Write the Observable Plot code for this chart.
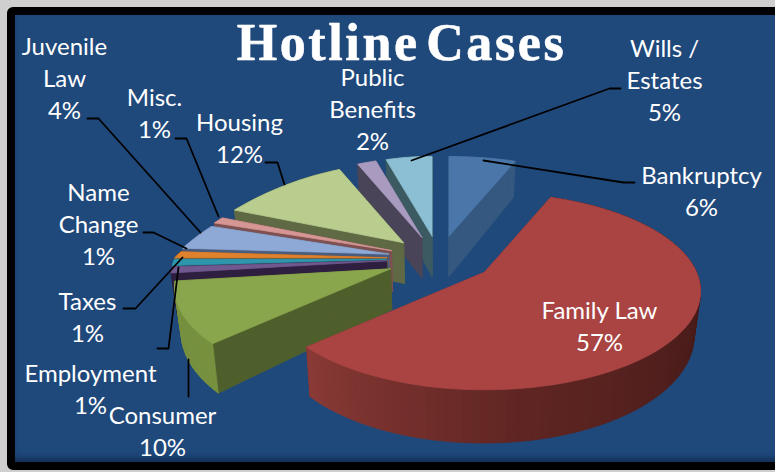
<!DOCTYPE html>
<html>
<head>
<meta charset="utf-8">
<script src="https://cdn.jsdelivr.net/npm/d3@7"></script>
<script src="https://cdn.jsdelivr.net/npm/@observablehq/plot@0.6"></script>
<style>
html,body{margin:0;padding:0;width:775px;height:472px;overflow:hidden;background:#cfcfcf}
#panel{position:absolute;left:7px;top:7px;width:800px;height:447px;border:8px solid #000;border-radius:6px;background:#1f487b;box-shadow:inset 0 -7px 7px -4px #10294d}
#chart{position:absolute;left:0;top:0}
.bigtitle text{letter-spacing:2.6px;word-spacing:-9px}
</style>
</head>
<body>
<div id="panel"></div>
<div id="chart"></div>
<script>
const categories = ["Bankruptcy","Family Law","Consumer","Employment","Taxes","Name Change","Juvenile Law","Misc.","Housing","Public Benefits","Wills / Estates"];
const shares = [6,57,10,1,1,1,4,1,12,2,5];
const labels = ["Bankruptcy\n6%","Family Law\n57%","Consumer\n10%","Employment\n1%","Taxes\n1%","Name\nChange\n1%","Juvenile\nLaw\n4%","Misc.\n1%","Housing\n12%","Public\nBenefits\n2%","Wills /\nEstates\n5%"];

// Styling and layout, by category index
const topColor  = ["#4a76a9","#a94442","#8aa64c","#71588f","#2f96ad","#e0812d","#8ea9d6","#d69694","#b9cd8e","#a99bc0","#8cbfd3"];
const wallColor = ["#34587f","#7a2f2d","#4f5f2c","#2e1f40","#1d5f6e","#8e4f18","#4a5d7e","#7e5150","#5f6a45","#4a4458","#3b5a62"];
const paintOrder = [10,9,0,8,7,6,5,4,3,2,1];
const labelX = [701,599,162,90,87,98,64,154,239,372,664];
const labelY = [192,327,432,390,318,225,79,114,139,110,81].map(y => y - 2.5);
const leaders = [
  [[634,182],[623,182],[483,160]],
  [[188,396],[188,359]],
  [[157,348],[168,348],[178,267]],
  [[123,308],[135,308],[182,257]],
  [[143,232],[153,232],[186,248]],
  [[87,118],[98,118],[200,232]],
  [[175,138],[186,138],[218,216]],
  [[265,162],[277,162],[284,184]],
  [[620,88],[609,88],[411,160]]
];
const cx = 439, cy = 258, Rx = 212, Ry = 95, persp = 0.192, perspBackLeft = 0.45, explode = 0.25, depth = 43, taper = 0.025;

const total = d3.sum(shares);
const toRad = a => a * 2 * Math.PI / total;
const cum = d3.cumsum(shares);
const slices = shares.map((v, i) => ({i, a0: toRad(i ? cum[i-1] : 0), a1: toRad(cum[i])}));

function proj(u, v) {
  const s = 1 / (1 + persp * v);
  const sx = (u < 0 && v > 0) ? 1 / (1 + perspBackLeft * v) : s;
  return {x: Rx * u * sx, y: -Ry * v * s, d: depth * s};
}
function geom(sl) {
  const m = (sl.a0 + sl.a1) / 2;
  const ap = proj(explode * Math.sin(m), explode * Math.cos(m));
  const apex = [cx + ap.x, cy + ap.y];
  const n = Math.max(3, Math.ceil((sl.a1 - sl.a0) / 0.035));
  const rim = d3.range(n + 1).map(k => {
    const a = sl.a0 + (sl.a1 - sl.a0) * k / n;
    const p = proj(Math.sin(a), Math.cos(a));
    return {x: apex[0] + p.x, y: apex[1] + p.y, d: p.d, a};
  });
  return {apex, rim};
}
const lower = (x, y, d) => [x + (cx - x) * taper, y + d];
const poly = (pts, fill) => Plot.line([...pts, pts[0]], {x: d => d[0], y: d => d[1], fill, stroke: fill, strokeWidth: 0.8, curve: "linear"});
const familyWall = d3.scaleLinear().domain([Math.PI*1.26, Math.PI*0.95, Math.PI*0.5]).range(["#8a3a36","#5f2522","#411816"]).clamp(true);
const consumerWall = "#77913f";

const marks = [];
for (const idx of paintOrder) {
  const sl = slices[idx], {apex, rim} = geom(sl);
  const first = rim[0], last = rim[rim.length - 1], dA = depth * 0.95;
  const apexLow = lower(apex[0], apex[1], dA);
  // radial walls
  marks.push(poly([apex,[first.x,first.y],lower(first.x,first.y,first.d),apexLow], wallColor[idx]));
  marks.push(poly([apex,[last.x,last.y],lower(last.x,last.y,last.d),apexLow], wallColor[idx]));
  // outer wall
  for (let k = 0; k < rim.length - 1; k++) {
    const p = rim[k], q = rim[k+1];
    const c = idx === 1 ? familyWall((p.a + q.a)/2) : idx === 2 ? consumerWall : wallColor[idx];
    marks.push(poly([[p.x,p.y],[q.x,q.y],lower(q.x,q.y,q.d),lower(p.x,p.y,p.d)], c));
  }
  // top face
  marks.push(poly([apex, ...rim.map(p => [p.x,p.y])], topColor[idx]));
}
for (const l of leaders) {
  marks.push(Plot.line(l, {x: d => d[0], y: d => d[1], stroke: "#000", strokeWidth: 1.8, curve: "linear"}));
}
marks.push(Plot.text(labels, {
  x: (d,i) => labelX[i], y: (d,i) => labelY[i], text: d => d,
  fill: "#fff", fontFamily: "Lato", fontSize: 24, lineHeight: 32/24, textAnchor: "middle", lineAnchor: "middle"
}));
marks.push(Plot.text(["Hotline Cases"], {
  x: () => 401, y: () => 43, text: d => d, fill: "#fff", stroke: "#fff", strokeWidth: 0.6,
  fontFamily: "Liberation Serif", fontWeight: "bold", fontSize: 52, textAnchor: "middle", className: "bigtitle"
}));

const chart = Plot.plot({
  width: 775, height: 472, margin: 0,
  x: {domain: [0,775], range: [0,775], axis: null},
  y: {domain: [0,472], range: [0,472], axis: null},
  style: {background: "transparent"},
  marks
});
document.getElementById("chart").appendChild(chart);
</script>
</body>
</html>
